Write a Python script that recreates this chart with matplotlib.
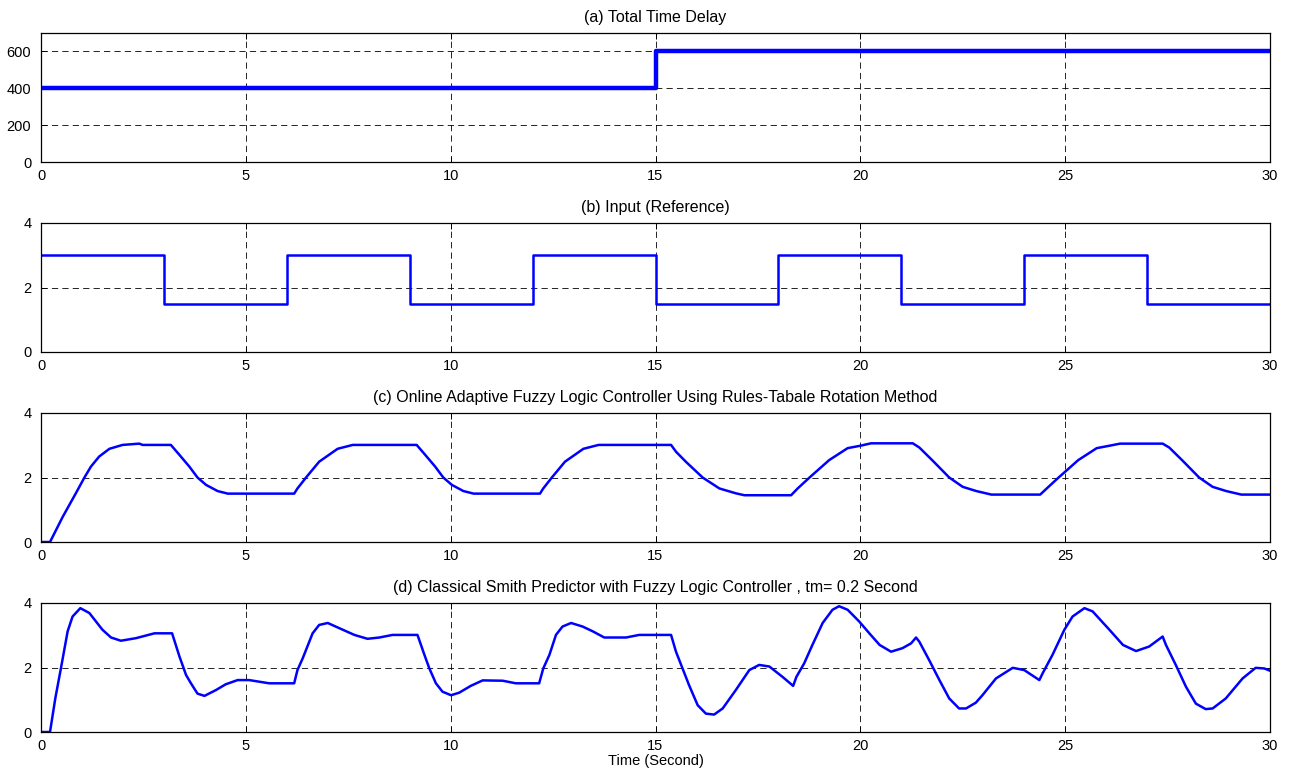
import matplotlib
matplotlib.use("Agg")
import matplotlib.pyplot as plt

# ---------------- data ----------------
titles = [
    "(a) Total Time Delay",
    "(b) Input (Reference)",
    "(c) Online Adaptive Fuzzy Logic Controller Using Rules-Tabale Rotation Method",
    "(d) Classical Smith Predictor with Fuzzy Logic Controller , tm= 0.2 Second",
]
xlabel_text = "Time (Second)"
x_ticks = [0, 5, 10, 15, 20, 25, 30]

# (a) total time delay (step at 15 s)
delay_t = [0, 15, 15, 30]
delay_v = [400, 400, 600, 600]

# (b) reference square wave
ref_t = [0, 3, 3, 6, 6, 9, 9, 12, 12, 15, 15, 18, 18, 21, 21, 24, 24, 27, 27, 30]
ref_v = [3, 3, 1.5, 1.5, 3, 3, 1.5, 1.5, 3, 3, 1.5, 1.5, 3, 3, 1.5, 1.5, 3, 3, 1.5, 1.5]

# (c) online adaptive FLC response
fz_t = [0, 0.22, 0.53, 0.85, 1.06, 1.22, 1.42, 1.67, 1.99, 2.40, 2.48, 3.17, 3.38, 3.62,
        3.82, 4.03, 4.31, 4.56, 6.18, 6.26, 6.47, 6.79, 7.24, 7.61, 9.17, 9.38, 9.62,
        9.82, 10.03, 10.31, 10.56, 12.18, 12.26, 12.47, 12.79, 13.24, 13.61, 15.38,
        15.50, 15.74, 16.15, 16.56, 16.96, 17.17, 18.31, 18.47, 18.76, 19.24, 19.69,
        20.02, 20.26, 21.28, 21.44, 21.76, 22.17, 22.50, 22.83, 23.20, 24.39, 24.55,
        24.84, 25.32, 25.77, 26.10, 26.34, 27.38, 27.54, 27.86, 28.27, 28.60, 28.93,
        29.30, 30.0]
fz_v = [0, 0, 0.78, 1.51, 2.00, 2.34, 2.65, 2.89, 3.01, 3.05, 3.01, 3.01, 2.70, 2.34,
        2.00, 1.77, 1.58, 1.50, 1.50, 1.66, 2.00, 2.49, 2.89, 3.01, 3.01, 2.70, 2.34,
        2.00, 1.77, 1.58, 1.50, 1.50, 1.66, 2.00, 2.49, 2.89, 3.01, 3.01,
        2.80, 2.49, 2.00, 1.66, 1.51, 1.45, 1.45, 1.66, 2.00, 2.54, 2.91,
        2.99, 3.06, 3.06, 2.93, 2.53, 2.00, 1.71, 1.58, 1.47, 1.47, 1.66,
        2.00, 2.54, 2.91, 2.99, 3.05, 3.05, 2.93, 2.53, 2.00, 1.71, 1.58,
        1.47, 1.47]

# (d) classical Smith predictor response
sp_t = [0, 0.22, 0.35, 0.49, 0.65, 0.77, 0.96, 1.18, 1.50, 1.71, 1.95, 2.32, 2.77, 3.20,
        3.38, 3.54, 3.66, 3.82, 3.99, 4.27, 4.51, 4.80, 5.08, 5.57, 6.18, 6.26, 6.39,
        6.63, 6.79, 7.00, 7.28, 7.65, 7.97, 8.26, 8.58, 9.19, 9.36, 9.48, 9.64, 9.80,
        10.01, 10.21, 10.49, 10.78, 11.27, 11.59, 12.16, 12.26, 12.41, 12.57, 12.73,
        12.94, 13.22, 13.47, 13.75, 14.28, 14.60, 15.38, 15.50, 15.66, 15.82, 16.03,
        16.23, 16.43, 16.64, 16.96, 17.29, 17.53, 17.78, 18.10, 18.36, 18.44, 18.63,
        18.83, 19.08, 19.32, 19.48, 19.69, 19.97, 20.22, 20.47, 20.75, 21.03, 21.24,
        21.36, 21.44, 21.68, 21.93, 22.17, 22.41, 22.58, 22.82, 22.98, 23.31, 23.72,
        24.00, 24.37, 24.45, 24.69, 24.98, 25.18, 25.47, 25.67, 26.08, 26.41, 26.73,
        27.05, 27.38, 27.46, 27.70, 27.95, 28.19, 28.43, 28.60, 28.92, 29.33, 29.65,
        29.86, 30.0]
sp_v = [0, 0, 1.05, 2.00, 3.12, 3.58, 3.84, 3.69, 3.17, 2.93, 2.83, 2.91, 3.06, 3.06,
        2.34, 1.77, 1.51, 1.19, 1.12, 1.30, 1.48, 1.61, 1.61, 1.51, 1.51, 1.92, 2.29,
        3.06, 3.32, 3.38, 3.22, 3.01, 2.89, 2.93, 3.01, 3.01, 2.39, 1.97, 1.51, 1.25,
        1.14, 1.22, 1.43, 1.60, 1.59, 1.51, 1.51, 1.97, 2.39, 3.01, 3.27,
        3.38, 3.27, 3.12, 2.93, 2.93, 3.01, 3.01, 2.49, 1.97, 1.45, 0.83,
        0.57, 0.54, 0.73, 1.30, 1.92, 2.08, 2.03, 1.71, 1.43, 1.71, 2.13,
        2.70, 3.38, 3.79, 3.90, 3.79, 3.43, 3.06, 2.70, 2.49, 2.60, 2.75,
        2.93, 2.80, 2.23, 1.61, 1.04, 0.73, 0.73, 0.91, 1.14, 1.66, 1.99,
        1.92, 1.61, 1.82, 2.39, 3.17, 3.58, 3.84, 3.74, 3.17, 2.70, 2.51,
        2.65, 2.96, 2.70, 2.08, 1.40, 0.88, 0.71, 0.73, 1.04, 1.66, 1.99,
        1.97, 1.90]

series = [(delay_t, delay_v), (ref_t, ref_v), (fz_t, fz_v), (sp_t, sp_v)]
y_limits = [(0, 700), (0, 4), (0, 4), (0, 4)]
y_ticks = [[0, 200, 400, 600], [0, 2, 4], [0, 2, 4], [0, 2, 4]]

# ---------------- style ----------------
plt.rcParams['font.family'] = ['Liberation Sans', 'DejaVu Sans']
plt.rcParams['lines.scale_dashes'] = False

W, H = 1291, 776
fig = plt.figure(figsize=(W / 100, H / 100), dpi=100)
fig.patch.set_facecolor('white')

left_px, right_px = 41, 1270
tops_px = [33, 223, 413, 603]
h_px = 129

for i, (tt, vv) in enumerate(series):
    top = tops_px[i]
    ax = fig.add_axes([left_px / W, 1 - (top + h_px) / H, (right_px - left_px) / W, h_px / H])
    lw = 3.2 if i == 0 else 1.8
    ax.plot(tt, vv, color=(0, 0, 1), lw=lw, solid_joinstyle='round')
    ax.set_xlim(0, 30)
    ax.set_ylim(*y_limits[i])
    ax.set_xticks(x_ticks)
    ax.set_yticks(y_ticks[i])
    ax.grid(True, color='black', linestyle=(0, (4.5, 3.0)), linewidth=0.6)
    ax.tick_params(direction='in', top=True, right=True, length=4, width=0.7,
                   labelsize=10.5)
    ax.tick_params(axis='y', pad=7)
    ax.tick_params(axis='x', pad=5)
    for s in ax.spines.values():
        s.set_linewidth(0.9)
    ax.set_title(titles[i], fontsize=11.5, pad=8)
    if i == 3:
        ax.set_xlabel(xlabel_text, fontsize=10.5, labelpad=1)

fig.savefig("out.png", dpi=100, facecolor='white')
